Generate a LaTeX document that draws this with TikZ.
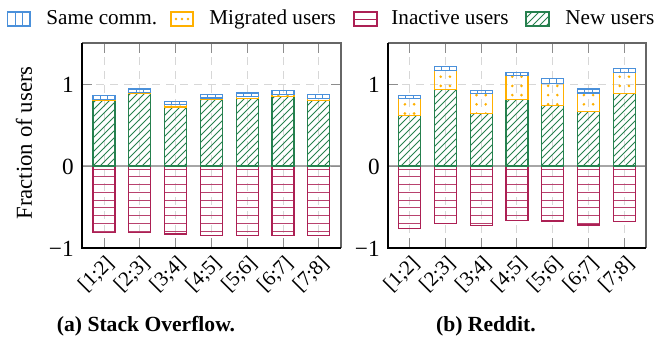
\documentclass[tikz,border=0pt]{standalone}
\usepackage{fontspec}
\setmainfont{Liberation Serif}
\definecolor{cblue}{RGB}{74,144,218}
\definecolor{corange}{RGB}{255,176,0}
\definecolor{cred}{RGB}{172,32,84}
\definecolor{cgreen}{RGB}{38,128,78}
\definecolor{cgrid}{RGB}{215,215,215}
\definecolor{ctick}{RGB}{140,140,140}
\tikzset{
  edgeL/.style={line width=0.6pt},
  hatchL/.style={line width=0.4pt},
  legtxt/.style={anchor=base west, inner sep=0pt, font=\fontsize{10.6}{12}\selectfont},
  ticklab/.style={anchor=east, inner sep=0pt, font=\fontsize{11.6}{13}\selectfont},
  xlab/.style={anchor=east, inner sep=0pt, rotate=45, font=\fontsize{10.4}{12}\selectfont},
  capt/.style={inner sep=0pt, font=\fontsize{10.8}{13}\selectfont\bfseries},
  gridl/.style={draw=cgrid, line width=0.5pt, dash pattern=on 4pt off 3pt},
  tickl/.style={draw=ctick, line width=0.5pt},
}
% segment drawers: #1 = bar centre x, #2 = top y, #3 = bottom y (pixels, y down)
\newcommand\segNew[3]{%
  \begin{scope}
    \clip ({#1-11},#2) rectangle ({#1+11},#3);
    \pgfmathtruncatemacro\kmin{floor((#1-11+#2)/7)-1}
    \pgfmathtruncatemacro\kmax{ceil((#1+11+#3)/7)+1}
    \foreach \k in {\kmin,...,\kmax}{
      \draw[cgreen, hatchL] ({#1-14},{7*\k-#1+14}) -- ({#1+14},{7*\k-#1-14});
    }
  \end{scope}
  \draw[cgreen, edgeL] ({#1-11},#2) rectangle ({#1+11},#3);
}
\newcommand\segIna[3]{%
  \begin{scope}
    \clip ({#1-11},#2) rectangle ({#1+11},#3);
    \foreach \k in {0,...,10}{
      \draw[cred!85, hatchL] ({#1-12},{168.9+7.75*\k}) -- ({#1+12},{168.9+7.75*\k});
    }
  \end{scope}
  \draw[cred, edgeL] ({#1-11},#2) rectangle ({#1+11},#3);
}
\newcommand\segMig[3]{%
  \begin{scope}
    \clip ({#1-11},#2) rectangle ({#1+11},#3);
    \foreach \k in {0,...,14}{
      \fill[corange] ({#1-4.6},{166-9.2*\k-6.5}) circle [radius=1.45];
      \fill[corange] ({#1+4.6},{166-9.2*\k-6.5}) circle [radius=1.45];
    }
  \end{scope}
  \draw[corange, edgeL] ({#1-11},#2) rectangle ({#1+11},#3);
}
\newcommand\segSame[3]{%
  \draw[cblue, hatchL] ({#1-3.8},#2) -- ({#1-3.8},#3) ({#1+3.8},#2) -- ({#1+3.8},#3);
  \draw[cblue, edgeL] ({#1-11},#2) rectangle ({#1+11},#3);
}
\begin{document}
\begin{tikzpicture}[x=0.5pt,y=-0.5pt]
\useasboundingbox (0,0) rectangle (654,348);
% ---------- legend ----------
\draw[cblue, hatchL] (15,12) -- (15,26) (22.5,12) -- (22.5,26);
\draw[cblue, edgeL] (7.5,12) rectangle (30,26);
\node[legtxt] (lsame) at (46,24.5) {Same comm.};
\foreach \dx in {176,182,188}{\fill[corange] (\dx,19) circle [radius=1.3];}
\draw[corange, edgeL] (171,12) rectangle (193,26);
\node[legtxt] (lmig) at (209,24.5) {Migrated users};
\draw[cred, hatchL] (354,19) -- (377,19);
\draw[cred, edgeL] (354,12) rectangle (377,26);
\node[legtxt] (lina) at (391,24.5) {Inactive users};
\begin{scope}
  \clip (526,12) rectangle (549,26);
  \foreach \c in {530,537,...,586}{\draw[cgreen, hatchL] ({\c-30},30) -- (\c,0);}
\end{scope}
\draw[cgreen, edgeL] (526,12) rectangle (549,26);
\node[legtxt] (lnew) at (565,24.5) {New users};
% y label
\node[rotate=90, inner sep=0pt, font=\fontsize{11.4}{13}\selectfont] (ylab) at (24,143) {Fraction of users};
% ---------- left plot ----------
\def\XL{82}\def\XR{341}
\foreach \i in {1,...,7}{
  \pgfmathsetmacro\xc{104+35.8*(\i-1)}
  \draw[gridl] (\xc,43) -- (\xc,248);
}
\draw[gridl] (\XL,84) -- (\XR,84);
\draw[draw=black!35, line width=1pt] (\XL,166) -- (\XR,166);
\foreach \i/\g/\o/\b/\n/\lab in {1/.80/.81/.855/-.81/{[1;2]},2/.88/.90/.94/-.81/{[2;3]},3/.72/.75/.79/-.83/{[3;4]},4/.81/.83/.87/-.845/{[4;5]},5/.825/.845/.89/-.85/{[5;6]},6/.85/.875/.92/-.845/{[6;7]},7/.80/.82/.87/-.845/{[7;8]}}{
  \pgfmathsetmacro\xc{104+35.8*(\i-1)}
  \pgfmathsetmacro\yn{166-82*\n}
  \pgfmathsetmacro\yg{166-82*\g}
  \pgfmathsetmacro\yo{166-82*\o}
  \pgfmathsetmacro\yb{166-82*\b}
  \segIna{\xc}{166}{\yn}
  \segNew{\xc}{\yg}{166}
  \segMig{\xc}{\yo}{\yg}
  \segSame{\xc}{\yb}{\yo}
  \draw[tickl] (\xc,248) -- (\xc,238) (\xc,43) -- (\xc,53);
  \node[xlab] (xa\i) at ({\xc+7},260) {\lab};
}
\foreach \yy in {84,166,248}{
  \draw[tickl] (\XL,\yy) -- ({\XL+10},\yy) (\XR,\yy) -- ({\XR-10},\yy);
}
\node[ticklab] (ya1) at (74,84.5) {1};
\node[ticklab] (ya0) at (74,166.5) {0};
\node[ticklab] (yam) at (74,248.5) {−1};
\draw[black!60, line width=0.6pt] (\XL,43) -- (\XR,43) -- (\XR,248);
\draw[black, line width=0.6pt] (\XL,43) -- (\XL,248) -- (\XR,248);
\node[capt] (capa) at (146,326) {(a) Stack Overflow.};
% ---------- right plot ----------
\def\XL{388}\def\XR{646}
\foreach \i in {1,...,7}{
  \pgfmathsetmacro\xc{409.5+35.8*(\i-1)}
  \draw[gridl] (\xc,43) -- (\xc,248);
}
\draw[gridl] (\XL,84) -- (\XR,84);
\draw[draw=black!35, line width=1pt] (\XL,166) -- (\XR,166);
\foreach \i/\g/\o/\b/\n/\lab in {1/.62/.82/.86/-.765/{[1;2]},2/.93/1.16/1.21/-.705/{[2;3]},3/.64/.88/.92/-.725/{[3;4]},4/.81/1.10/1.14/-.66/{[4;5]},5/.74/1.01/1.07/-.67/{[5;6]},6/.66/.89/.94/-.72/{[6;7]},7/.88/1.14/1.19/-.68/{[7;8]}}{
  \pgfmathsetmacro\xc{409.5+35.8*(\i-1)}
  \pgfmathsetmacro\yn{166-82*\n}
  \pgfmathsetmacro\yg{166-82*\g}
  \pgfmathsetmacro\yo{166-82*\o}
  \pgfmathsetmacro\yb{166-82*\b}
  \segIna{\xc}{166}{\yn}
  \segNew{\xc}{\yg}{166}
  \segMig{\xc}{\yo}{\yg}
  \segSame{\xc}{\yb}{\yo}
  \draw[tickl] (\xc,248) -- (\xc,238) (\xc,43) -- (\xc,53);
  \node[xlab] (xb\i) at ({\xc+7},260) {\lab};
}
\foreach \yy in {84,166,248}{
  \draw[tickl] (\XL,\yy) -- ({\XL+10},\yy) (\XR,\yy) -- ({\XR-10},\yy);
}
\node[ticklab] (yb1) at (380,84.5) {1};
\node[ticklab] (yb0) at (380,166.5) {0};
\node[ticklab] (ybm) at (380,248.5) {−1};
\draw[black!60, line width=0.6pt] (\XL,43) -- (\XR,43) -- (\XR,248);
\draw[black, line width=0.6pt] (\XL,43) -- (\XL,248) -- (\XR,248);
\node[capt] (capb) at (486,326) {(b) Reddit.};
\end{tikzpicture}
\end{document}
